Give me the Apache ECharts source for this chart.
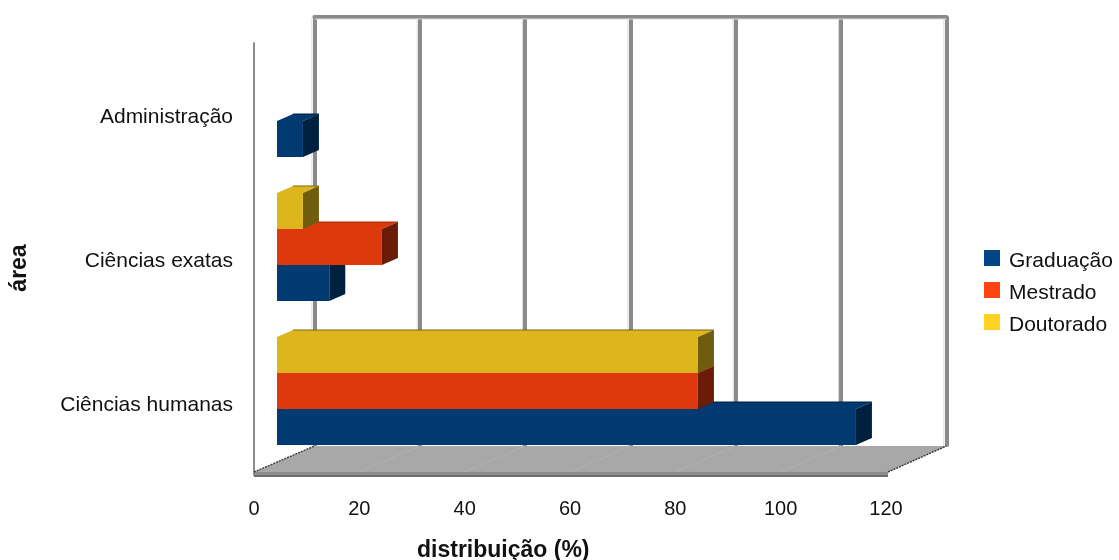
<!DOCTYPE html>
<html>
<head>
<meta charset="utf-8">
<style>html,body{margin:0;padding:0;background:#fff}#chart{width:1119px;height:560px}</style>
<script src="https://cdn.jsdelivr.net/npm/echarts@6/dist/echarts.min.js"></script>
</head>
<body>
<div id="chart"></div>
<script>
// Categories run bottom to top on the vertical axis
const categories = ['Ciências humanas', 'Ciências exatas', 'Administração'];
const graduacao = [110, 10, 5];
const mestrado = [80, 20, null];
const doutorado = [80, 5, null];
const xTicks = [0, 20, 40, 60, 80, 100, 120];

const FONT = '"Liberation Sans", Arial, sans-serif';
const GRID = { left: 254, top: 43, width: 632, height: 432 };
const WALL = { dx: 60.4, dy: -26.5 };   // back wall offset from the front plane
const BAR_PLANE = { dx: 23, dy: -12 };  // bars stand between front plane and wall
const BAR_DEPTH = { dx: 16, dy: -7 };
const BAR_FRACTION = 0.25;              // share of a category band for one bar

const palette = [
  { name: 'Graduação', data: graduacao, legend: '#004586', face: '#003a70', side: '#00203f', edge: '#001f3d' },
  { name: 'Mestrado', data: mestrado, legend: '#ff420e', face: '#de390c', side: '#6a1c06', edge: '#a02a08' },
  { name: 'Doutorado', data: doutorado, legend: '#ffd320', face: '#dcb61c', side: '#6f5c0e', edge: '#7a6612' }
];

// One pseudo-3D bar: top, end cap and front face, placed by the axes' scales
function barRenderer(index, colors) {
  return function (params, api) {
    const value = api.value(0);
    if (value == null || isNaN(value)) return;
    const end = api.coord([value, api.value(1)]);
    const start = api.coord([0, api.value(1)]);
    const band = api.size([0, 1])[1];
    const h = band * BAR_FRACTION;
    const x0 = start[0] + BAR_PLANE.dx;
    const x1 = end[0] + BAR_PLANE.dx - 0.4;
    const yBottom = end[1] + BAR_PLANE.dy + 1.5 * h - h * index;
    const yTop = yBottom - h;
    const d = BAR_DEPTH;
    const poly = (points, fill) => ({
      type: 'polygon', shape: { points: points }, style: { fill: fill }
    });
    return {
      type: 'group',
      children: [
        poly([[x0, yTop], [x0 + d.dx, yTop + d.dy], [x1 + d.dx, yTop + d.dy], [x1, yTop]], colors.face),
        poly([[x1, yTop], [x1 + d.dx, yTop + d.dy], [x1 + d.dx, yBottom + d.dy], [x1, yBottom]], colors.side),
        poly([[x0, yTop], [x1, yTop], [x1, yBottom], [x0, yBottom]], colors.face),
        {
          type: 'polyline',
          shape: { points: [[x0 + d.dx, yTop + d.dy], [x1 + d.dx, yTop + d.dy]] },
          style: { stroke: colors.edge, lineWidth: 1, fill: null }
        }
      ]
    };
  };
}

// Grey floor between the front plane and the wall, with faint tick lines across
// it, plus the pale inner edge along each wall line
function floorRenderer(params, api) {
  const cs = params.coordSys;
  const bottom = cs.y + cs.height;
  const fy = bottom - 3;
  const by = bottom - 29;
  const right = cs.x + cs.width + 2;
  const wallTop = cs.y + WALL.dy;
  const children = [
    {
      type: 'polygon',
      shape: { points: [[cs.x, fy], [cs.x + WALL.dx, by], [right + WALL.dx - 2, by], [right, fy]] },
      style: { fill: '#a8a8a8' }
    }
  ];
  xTicks.forEach(function (t) {
    const x = api.coord([t, 0])[0];
    children.push({
      type: 'line',
      shape: { x1: x + WALL.dx - 2.5, y1: wallTop + 2, x2: x + WALL.dx - 2.5, y2: by },
      style: { stroke: '#dadada', lineWidth: 1 }
    });
    if (t > 0 && t < 120) {
      children.push({
        type: 'line',
        shape: { x1: x, y1: fy, x2: x + WALL.dx, y2: by },
        style: { stroke: '#b2b2b2', lineWidth: 1 }
      });
    }
  });
  children.push(
    { type: 'line', shape: { x1: cs.x + WALL.dx, y1: wallTop + 2.5, x2: right + WALL.dx - 2, y2: wallTop + 2.5 }, style: { stroke: '#dadada', lineWidth: 1 } },
    { type: 'rect', shape: { x: cs.x, y: fy, width: right - cs.x, height: 3 }, style: { fill: '#8c8c8c' } },
    { type: 'rect', shape: { x: cs.x, y: fy + 3, width: right - cs.x, height: 2 }, style: { fill: '#6e6e6e' } },
    { type: 'line', shape: { x1: cs.x, y1: fy, x2: cs.x + WALL.dx, y2: by }, style: { stroke: '#3c3c3c', lineWidth: 1.4, lineDash: [2, 1] } },
    { type: 'line', shape: { x1: right, y1: fy, x2: right + WALL.dx - 2, y2: by }, style: { stroke: '#333', lineWidth: 1.4, lineDash: [2, 1] } }
  );
  return { type: 'group', children: children };
}

const chart = echarts.init(document.getElementById('chart'), null, { renderer: 'canvas' });

chart.setOption({
  animation: false,
  backgroundColor: '#ffffff',
  legend: {
    orient: 'vertical',
    left: 979,
    top: 245,
    icon: 'rect',
    itemWidth: 16,
    itemHeight: 16,
    itemGap: 10,
    selectedMode: false,
    data: palette.map(p => p.name),
    formatter: '{t|{name}}',
    textStyle: {
      rich: { t: { fontFamily: FONT, fontSize: 21, color: '#111', padding: [7, 0, 0, 4] } }
    }
  },
  graphic: [
    {
      type: 'text', left: 417, top: 539,
      style: { text: 'distribuição (%)', font: 'bold 23px ' + FONT, fill: '#111' }
    },
    {
      type: 'text', x: 20, y: 268, rotation: Math.PI / 2,
      style: { text: 'área', font: 'bold 23px ' + FONT, fill: '#111', align: 'center', verticalAlign: 'middle' }
    }
  ],
  grid: [
    GRID,
    { left: GRID.left + WALL.dx, top: GRID.top + WALL.dy, width: GRID.width, height: GRID.height - 2 }
  ],
  xAxis: [
    {
      type: 'value', gridIndex: 0, min: 0, max: 120, interval: 20,
      axisLine: { show: false }, axisTick: { show: false }, splitLine: { show: false },
      axisLabel: { margin: 24, fontFamily: FONT, fontSize: 20, color: '#111' }
    },
    {
      type: 'value', gridIndex: 1, min: 0, max: 120, interval: 20, position: 'top',
      axisLine: { show: true, lineStyle: { color: '#8a8a8a', width: 4 } },
      axisTick: { show: false }, axisLabel: { show: false },
      splitLine: { show: true, lineStyle: { color: '#8a8a8a', width: 4 } }
    }
  ],
  yAxis: [
    {
      type: 'category', gridIndex: 0, data: categories,
      axisLine: { show: true, lineStyle: { color: '#8c8c8c', width: 2 } },
      axisTick: { show: false },
      axisLabel: {
        margin: 21,
        formatter: '{t|{value}}',
        rich: { t: { fontFamily: FONT, fontSize: 21, color: '#111', padding: [4, 0, 0, 0] } }
      }
    },
    {
      type: 'category', gridIndex: 1, data: categories,
      axisLine: { show: false }, axisTick: { show: false }, axisLabel: { show: false }
    }
  ],
  series: [
    {
      type: 'custom', name: 'piso', xAxisIndex: 0, yAxisIndex: 0, z: 1, silent: true,
      clip: false, renderItem: floorRenderer, data: [[0, 0]]
    }
  ].concat(palette.map(function (p, i) {
    return {
      type: 'custom',
      name: p.name,
      xAxisIndex: 0,
      yAxisIndex: 0,
      z: 3 + i,
      clip: false,
      itemStyle: { color: p.legend },
      encode: { x: 0, y: 1 },
      renderItem: barRenderer(i, p),
      data: p.data.map((v, c) => [v, c])
    };
  }))
});
</script>
</body>
</html>
